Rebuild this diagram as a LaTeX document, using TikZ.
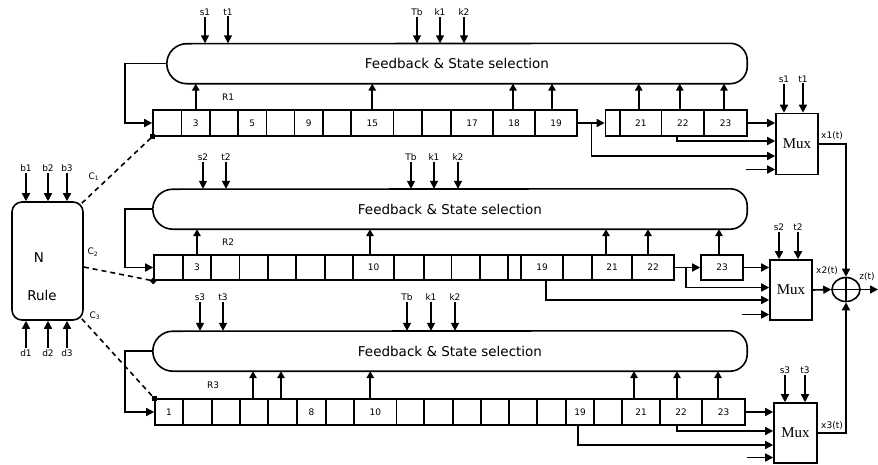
\documentclass[tikz,border=0pt]{standalone}
\usepackage{fontspec}
\setmainfont{DejaVu Sans}
\newfontfamily\serifmux{Liberation Serif}
\usetikzlibrary{arrows.meta,shapes.geometric}

\tikzset{
  ln/.style={line width=1.6pt},
  arr/.style={ln, -{Triangle[length=8pt,width=8pt]}},
  sarr/.style={ln, -{Triangle[length=7pt,width=7.5pt]}},
  cell/.style={draw, ln, inner sep=0pt, font=\fontsize{9}{10}\selectfont},
  lbl/.style={inner sep=1pt, font=\fontsize{9}{10}\selectfont},
  fbtext/.style={inner sep=0pt, minimum height=40pt, font=\fontsize{13.5}{16}\selectfont},
  bigtxt/.style={inner sep=0pt, font=\fontsize{13.5}{16}\selectfont},
  muxbox/.style={draw, ln, inner sep=0pt, minimum width=42pt, minimum height=61pt,
                 font=\serifmux\fontsize{15}{18}\selectfont},
  dashlink/.style={line width=1.6pt, dash pattern=on 5pt off 4pt},
}

% a row of register cells: name, top y, bottom y, list of left/right/label
\newcommand\regcells[4]{%
  \foreach \xa/\xb/\tx [count=\i] in {#4} {%
    \node[cell, minimum width={(\xb-\xa)*1pt}, minimum height={(#3-#2)*1pt}]
      (#1-\i) at ({(\xa+\xb)/2},{(#2+#3)/2}) {\tx};
  }}

% outline of a feedback block: round left end, rounded right corners
\newcommand\fbshape[1]{%
  \draw[ln] ([xshift=20pt]#1.south west) arc[start angle=270,end angle=90,radius=20pt]
    -- ([xshift=-17pt]#1.north east) arc[start angle=90,end angle=0,radius=17pt]
    -- ([yshift=17pt]#1.south east) arc[start angle=0,end angle=-90,radius=17pt]
    -- cycle;}

% tap arrow from a cell up to its feedback block
\newcommand\tap[3]{%
  \path (#1.north) ++(#2,0) coordinate (fa);
  \draw[sarr] (fa) -- (fa |- #3.south);}

% labelled input arrow coming down onto a block
\newcommand\inarrow[5]{%
  \node[lbl] (#1) at (#2,#3) {#4};
  \draw[arr] (#1.south) -- (#1.south |- #5.north);}

\begin{document}
\begin{tikzpicture}[x=1pt,y=-1pt]
\useasboundingbox (0,0) rectangle (878,464);

% ---------- feedback blocks ----------
\node[fbtext, minimum width=580pt] (fb1) at (457,63.5) {Feedback \& State selection};
\node[fbtext, minimum width=594pt] (fb2) at (450,209) {Feedback \& State selection};
\node[fbtext, minimum width=594pt] (fb3) at (450,351) {Feedback \& State selection};
\fbshape{fb1}
\fbshape{fb2}
\fbshape{fb3}

% ---------- registers ----------
\regcells{r1a}{110}{136}{153/181.5/{},181.5/210/3,210/238/{},238/266.5/5,266.5/294.5/{},294.5/323/9,323/351/{},351/393.5/15,393.5/422/{},422/451/{},451/493/17,493/535/18,535/577/19}
\regcells{r1b}{110}{136}{605.5/620/{},620/661.5/21,661.5/704/22,704/747/23}
\regcells{r2a}{255}{280}{154/183/{},183/211/3,211/239.5/{},239.5/268/{},268/296/{},296/325/{},325/353/{},353/394/10,394/424/{},424/451.5/{},451.5/480/{},480/508/{},508/521/{},521/563/19,563/592/{},592/632/21,632/674/22}
\regcells{r2b}{255}{280}{701/743/23}
\regcells{r3}{399}{425}{155/183/1,183/212/{},212/240/{},240/268/{},268/297/{},297/326/8,326/354/{},354/396.5/10,396.5/424/{},424/453/{},453/481/{},481/509/{},509/537/{},537/566/{},566/594/19,594/622/{},622/660/21,660/702/22,702/745/23}

\node[lbl] at (228,97) {R1};
\node[lbl] at (228,242) {R2};
\node[lbl] at (213,385) {R3};

% ---------- taps into the feedback blocks ----------
\tap{r1a-2}{0}{fb1}  \tap{r1a-8}{0}{fb1}  \tap{r1a-12}{-1}{fb1} \tap{r1a-13}{-4}{fb1}
\tap{r1b-2}{-2}{fb1} \tap{r1b-3}{-3}{fb1} \tap{r1b-4}{-1.5}{fb1}
\tap{r2a-2}{0}{fb2}  \tap{r2a-8}{-3.5}{fb2} \tap{r2a-16}{-6}{fb2} \tap{r2a-17}{-5}{fb2}
\tap{r2b-1}{-3}{fb2}
\tap{r3-4}{-1}{fb3}  \tap{r3-5}{-1.5}{fb3} \tap{r3-8}{-5}{fb3}
\tap{r3-17}{-7}{fb3} \tap{r3-18}{-4}{fb3}  \tap{r3-19}{-5.5}{fb3}

% ---------- control inputs of the feedback blocks ----------
\inarrow{s1a}{205}{12}{s1}{fb1} \inarrow{t1a}{228}{12}{t1}{fb1}
\inarrow{tb1}{417}{12}{Tb}{fb1} \inarrow{ka1}{440}{12}{k1}{fb1} \inarrow{kb1}{464}{12}{k2}{fb1}
\inarrow{s2a}{203}{157}{s2}{fb2} \inarrow{t2a}{226}{157}{t2}{fb2}
\inarrow{tb2}{411}{157}{Tb}{fb2} \inarrow{ka2}{434}{157}{k1}{fb2} \inarrow{kb2}{458}{157}{k2}{fb2}
\inarrow{s3a}{200}{297}{s3}{fb3} \inarrow{t3a}{223}{297}{t3}{fb3}
\inarrow{tb3}{407}{297}{Tb}{fb3} \inarrow{ka3}{431}{297}{k1}{fb3} \inarrow{kb3}{455}{297}{k2}{fb3}

% ---------- feedback loops back to the first cell ----------
\draw[arr] (fb1.west) -- ++(-42,0) |- (r1a-1.west);
\draw[arr] (fb2.west) -- ++(-28,0) |- (r2a-1.west);
\draw[arr] (fb3.west) -- ++(-28,0) |- (r3-1.west);

% ---------- multiplexers ----------
\node[muxbox] (mux1) at (797,144) {Mux};
\node[muxbox, minimum height=60pt] (mux2) at (791,290) {Mux};
\node[muxbox, minimum width=43pt, minimum height=60pt] (mux3) at (795.5,433) {Mux};

\inarrow{s1m}{784}{79}{s1}{mux1} \inarrow{t1m}{803}{79}{t1}{mux1}
\inarrow{s2m}{779}{227}{s2}{mux2} \inarrow{t2m}{798}{227}{t2}{mux2}
\inarrow{s3m}{785}{370}{s3}{mux3} \inarrow{t3m}{805}{370}{t3}{mux3}

% register 1 into mux 1
\coordinate (j1) at (591.5,123);
\draw[arr] (r1a-13.east) -- (r1b-1.west);
\draw[arr] (r1b-4.east) -- (r1b-4.east -| mux1.west);
\draw[arr] ([xshift=-6pt]r1b-3.south) |- ([yshift=3pt]mux1.west);
\draw[arr] (j1) |- ([yshift=-12pt]mux1.west);
\coordinate (st1) at (746,169.5);
\draw[arr] (st1) -- (st1 -| mux1.west);

% register 2 into mux 2
\coordinate (j2) at (686,267.5);
\draw[arr] (r2a-17.east) -- (r2b-1.west);
\draw[arr] (r2b-1.east) -- (r2b-1.east -| mux2.west);
\draw[arr] (j2) |- ([yshift=2.5pt]mux2.west);
\draw[arr] ([xshift=4pt]r2a-14.south) |- ([yshift=-10pt]mux2.west);
\coordinate (st2) at (742,314.5);
\draw[arr] (st2) -- (st2 -| mux2.west);

% register 3 into mux 3
\draw[arr] (r3-19.east) -- (r3-19.east -| mux3.west);
\draw[arr] ([xshift=-4pt]r3-18.south) |- ([yshift=2pt]mux3.west);
\draw[arr] ([xshift=-2pt]r3-15.south) |- ([yshift=-12pt]mux3.west);
\coordinate (st3) at (747,457.5);
\draw[arr] (st3) -- (st3 -| mux3.west);

% ---------- output combiner ----------
\node[draw, ln, ellipse, minimum width=28pt, minimum height=24pt, inner sep=0pt] (xor) at (846,289.5) {};
\draw[ln] (xor.north) -- (xor.south);
\draw[ln] (xor.west) -- (xor.east);
\draw[arr] (mux1.east) -| (xor.north);
\draw[arr] (mux2.east) -- (xor.west);
\draw[arr] (mux3.east) -| (xor.south);
\coordinate (zout) at (878,289.5);
\draw[arr] (xor.east) -- (zout);

\node[lbl] at (832,136) {x1(t)};
\node[lbl] at (827,271) {x2(t)};
\node[lbl] at (832,426) {x3(t)};
\node[lbl] at (867,277) {z(t)};

% ---------- N rule block ----------
\node[draw, ln, rounded corners=10pt, minimum width=71pt, minimum height=118pt] (nrule) at (47.5,261) {};
\node[bigtxt] at (39,258) {N};
\node[bigtxt] at (42,295) {Rule};

\inarrow{b1}{26}{168}{b1}{nrule} \inarrow{b2}{48}{168}{b2}{nrule} \inarrow{b3}{67}{168}{b3}{nrule}
\node[lbl] (d1) at (26,353) {d1};
\node[lbl] (d2) at (48,353) {d2};
\node[lbl] (d3) at (67,353) {d3};
\draw[arr] (d1.north) -- (d1.north |- nrule.south);
\draw[arr] (d2.north) -- (d2.north |- nrule.south);
\draw[arr] (d3.north) -- (d3.north |- nrule.south);

\node[lbl] at (94,177) {C\textsubscript{1}};
\node[lbl] at (93,252) {C\textsubscript{2}};
\node[lbl] at (95,316) {C\textsubscript{3}};

% control links to the registers
\draw[dashlink] ([xshift=-2pt,yshift=-2pt]nrule.north east) -- (r1a-1.south west);
\draw[dashlink] ([yshift=-6pt]nrule.east) -- (r2a-1.south west);
\draw[dashlink] ([xshift=-2pt,yshift=2pt]nrule.south east) -- (r3-1.north west);
\fill ([shift={(-2.5pt,-2.5pt)}]r1a-1.south west) rectangle ++(5pt,5pt);
\fill ([yshift=3.5pt]r2a-1.south west) -- ++(3.5pt,-3.5pt) -- ++(-3.5pt,-3.5pt) -- ++(-3.5pt,3.5pt) -- cycle;
\fill ([shift={(-2.5pt,-2.5pt)}]r3-1.north west) rectangle ++(5pt,5pt);
\end{tikzpicture}
\end{document}
